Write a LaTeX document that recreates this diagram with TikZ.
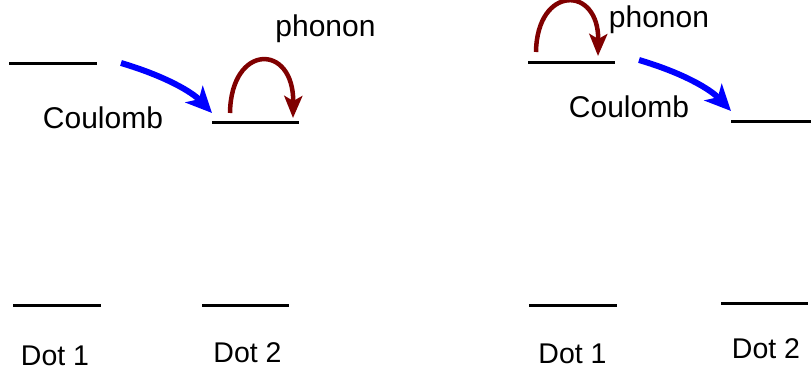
\documentclass[tikz,border=0pt]{standalone}
\usepackage{fontspec}
\setmainfont{Liberation Sans}
\usetikzlibrary{arrows.meta}
\definecolor{phred}{RGB}{128,0,0}
\tikzset{
  level/.style={line width=3pt,black},
  coul/.style={line width=6pt,blue,-{Stealth[length=26pt,width=24pt,inset=7pt]}},
  phon/.style={line width=4.5pt,phred,-{Stealth[length=22pt,width=18pt,inset=5pt]}},
  lbl/.style={anchor=base,inner sep=0pt,font=\fontsize{30}{36}\selectfont},
  dotlbl/.style={anchor=base,inner sep=0pt,font=\fontsize{28.5}{34}\selectfont}
}
\begin{document}
\begin{tikzpicture}[x=1pt,y=-1pt]
\useasboundingbox (0,0) rectangle (811,375);
% left panel levels
\draw[level] (9,63) -- (97,63);
\draw[level] (212,122) -- (299,122);
\draw[level] (13,305) -- (101,305);
\draw[level] (202,305) -- (289,305);
% right panel levels
\draw[level] (528,62) -- (615,62);
\draw[level] (731,121) -- (815,121);
\draw[level] (529,305) -- (617,305);
\draw[level] (721,303) -- (808,303);
% coordinates
\coordinate (cLs) at (121,63);
\coordinate (cLe) at (212,113);
\coordinate (pLs) at (230,113);
\coordinate (pLe) at (293,118);
\coordinate (cRs) at (639,60);
\coordinate (cRe) at (731,111);
\coordinate (pRs) at (536,52);
\coordinate (pRe) at (598,56);
% arrows
\draw[coul] (cLs) .. controls (165,76) and (192,92) .. (cLe);
\draw[coul] (cRs) .. controls (683,73) and (710,89) .. (cRe);
\draw[phon] (pLs) .. controls (231,43) and (294,43) .. (pLe);
\draw[phon] (pRs) .. controls (537,-15) and (599,-15) .. (pRe);
% labels
\node[lbl] (coulL) at (103,128) {Coulomb};
\node[lbl] (phonL) at (325.5,36) {phonon};
\node[lbl] (coulR) at (629,117) {Coulomb};
\node[lbl] (phonR) at (659,27) {phonon};
\node[dotlbl] (d1L) at (55,365) {Dot 1};
\node[dotlbl] (d2L) at (247.5,362) {Dot 2};
\node[dotlbl] (d1R) at (572.5,363) {Dot 1};
\node[dotlbl] (d2R) at (766,358) {Dot 2};
\end{tikzpicture}
\end{document}
